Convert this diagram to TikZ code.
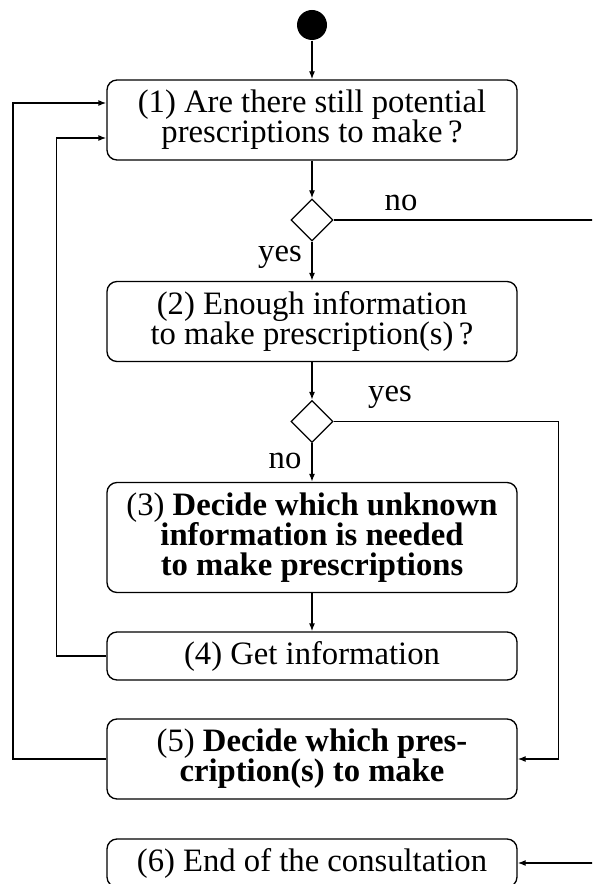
\documentclass[tikz,border=0pt]{standalone}
\usepackage{fontspec}
\setmainfont{Liberation Serif}
\usetikzlibrary{shapes.geometric, arrows.meta, positioning}

\begin{document}
\begin{tikzpicture}[x=0.3pt, y=-0.3pt,
  action/.style={rectangle, draw, rounded corners=3pt, minimum width=123pt,
                 inner sep=2pt, align=center, font=\fontsize{9.8pt}{9pt}\selectfont},
  choice/.style={diamond, draw, minimum width=12.6pt, minimum height=12.6pt, inner sep=0pt},
  start/.style={circle, fill, minimum size=9pt, inner sep=0pt},
  flow/.style={-{Latex[length=2.4pt, width=1.8pt]}},
  lbl/.style={inner sep=0pt, font=\fontsize{9.8pt}{9pt}\selectfont}]

  \path[use as bounding box, clip] (0,0) rectangle (592,884);

  % ── Activities ────────────────────────────────────────────────────
  \node[start] (init) at (312,25) {};
  \node[action, minimum height=24pt] (still) at (312,120)
        {(1) Are there still potential\\prescriptions to make\,?};
  \node[choice] (d1) at (312,220) {};
  \node[action, minimum height=24pt] (enough) at (312,321.5)
        {(2) Enough information\\to make prescription(s)\,?};
  \node[choice] (d2) at (312,421.5) {};
  \node[action, minimum height=33pt] (decide) at (312,537.5)
        {(3) \textbf{Decide which unknown}\\\textbf{information is needed}\\\textbf{to make prescriptions}};
  \node[action, minimum height=14.4pt] (get) at (312,656) {(4) Get information};
  \node[action, minimum height=24pt] (presc) at (312,759)
        {(5) \textbf{Decide which pres-}\\\textbf{cription(s) to make}};
  \node[action, minimum height=14.4pt] (end) at (312,863) {(6) End of the consultation};

  % ── Guards ────────────────────────────────────────────────────────
  \node[lbl] (no1) at (401,203) {no};
  \node[lbl] (yes1) at (280,257) {yes};
  \node[lbl] (yes2) at (390,397) {yes};
  \node[lbl] (no2) at (285,461) {no};

  % ── Flow ──────────────────────────────────────────────────────────
  \draw[flow] (init) -- (still);
  \draw[flow] (still) -- (d1);
  \draw[flow] (d1) -- (enough);
  \draw[flow] (enough) -- (d2);
  \draw[flow] (d2) -- (decide);
  \draw[flow] (decide) -- (get);
  \draw[flow] (get.west) -- ++(-50,0) |- ([yshift=-5.4pt]still.west);
  \draw[flow] (presc.west) -- ++(-93.5,0) |- ([yshift=5.1pt]still.west);
  \draw[flow] (d2.east) -- ++(225,0) |- (presc.east);
  \draw[flow] (d1.east) -- ++(267,0) |- (end.east);

\end{tikzpicture}
\end{document}
